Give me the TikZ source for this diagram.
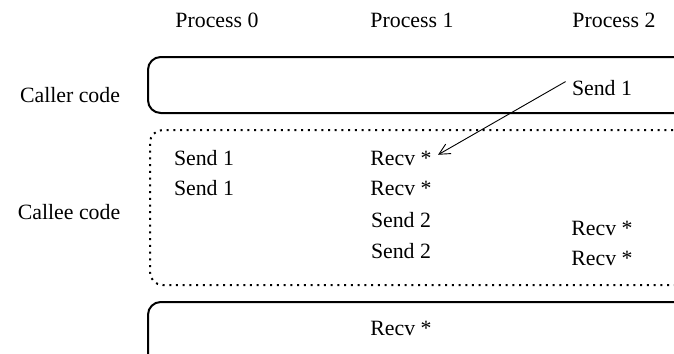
\documentclass[tikz,border=0pt]{standalone}
\usepackage{fontspec}
\setmainfont{Liberation Serif}
\usetikzlibrary{arrows.meta,positioning}

\begin{document}
\begin{tikzpicture}[
    x=0.55pt, y=-0.55pt,
    proclabel/.style={font=\fontsize{12}{14}\selectfont},
    rowlabel/.style={font=\fontsize{12}{14}\selectfont},
    msg/.style={font=\fontsize{12}{14}\selectfont},
    codebox/.style={line width=1.1pt, rounded corners=7pt},
    calleebox/.style={line width=1.1pt, rounded corners=7pt,
                      dash pattern=on 1.1pt off 2.6pt}
]
\clip (0,0) rectangle (674,353);

% column headings
\node[proclabel] (p0) at (217,20) {Process 0};
\node[proclabel] (p1) at (412,20) {Process 1};
\node[proclabel] (p2) at (614,20) {Process 2};

% row labels
\node[rowlabel] (caller) at (70,95) {Caller code};
\node[rowlabel] (callee) at (69,212) {Callee code};

% boxes, open to the right
\draw[codebox] (700,57) -- (148,57) -- (148,113) -- (700,113);
\draw[calleebox] (700,130) -- (150,130) -- (150,285) -- (700,285);
\draw[codebox] (700,302) -- (148,302) -- (148,380);

% caller code
\node[msg] (s2) at (602,88) {Send 1};

% callee code
\node[msg] (s0a) at (204,158) {Send 1};
\node[msg] (s0b) at (204,188) {Send 1};
\node[msg] (r1a) at (401,158) {Recv *};
\node[msg] (r1b) at (401,188) {Recv *};
\node[msg] (s1a) at (401,220) {Send 2};
\node[msg] (s1b) at (401,251) {Send 2};
\node[msg] (r2a) at (602,228) {Recv *};
\node[msg] (r2b) at (602,258) {Recv *};

% after the call
\node[msg] (r1c) at (401,328) {Recv *};

\draw[-{Straight Barb[length=6pt, width=6pt]}, line width=0.5pt]
    (s2.170) -- (r1a.5);
\end{tikzpicture}
\end{document}
